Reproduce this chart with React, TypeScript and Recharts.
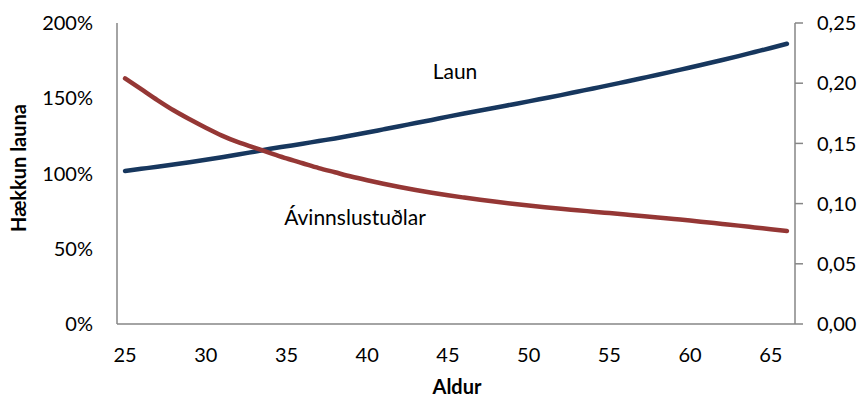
import { LineChart, Line, XAxis, YAxis } from 'recharts';

const ages = [
  25, 26, 27, 28, 29, 30, 31, 32, 33, 34, 35, 36, 37, 38, 39, 40, 41, 42, 43, 44, 45,
  46, 47, 48, 49, 50, 51, 52, 53, 54, 55, 56, 57, 58, 59, 60, 61, 62, 63, 64, 65, 66,
];

// Hækkun launa, % (left axis)
const laun = [
  101.7, 103.1, 104.5, 106.0, 107.5, 109.1, 110.8, 112.6, 114.5, 116.4, 118.1, 119.8,
  121.6, 123.3, 125.2, 127.2, 129.3, 131.4, 133.5, 135.6, 137.8, 139.9, 141.9, 143.9,
  145.9, 147.9, 150.0, 152.1, 154.3, 156.5, 158.7, 161.0, 163.3, 165.6, 168.0, 170.4,
  172.9, 175.4, 178.0, 180.7, 183.4, 186.2,
];

// Ávinnslustuðlar (right axis)
const avinnslustudlar = [
  0.204, 0.195, 0.186, 0.1775, 0.17, 0.163, 0.1565, 0.151, 0.1465, 0.142, 0.1375, 0.1335,
  0.1295, 0.126, 0.1225, 0.1194, 0.1165, 0.1138, 0.1113, 0.109, 0.1069, 0.105, 0.1032,
  0.1015, 0.0999, 0.0984, 0.097, 0.0957, 0.0945, 0.0933, 0.0921, 0.0909, 0.0897, 0.0885,
  0.0872, 0.0859, 0.0845, 0.0831, 0.0817, 0.0802, 0.0787, 0.0772,
];

const xTicks = [25, 30, 35, 40, 45, 50, 55, 60, 65];
const leftTicks = [0, 50, 100, 150, 200];
const rightTicks = [0, 0.05, 0.1, 0.15, 0.2, 0.25];

const data = ages.map((age, i) => ({ age, laun: laun[i], avinnslustudlar: avinnslustudlar[i] }));

const FONT = 'Lato, "Open Sans", sans-serif';
const AXIS = '#868686';
const tickStyle = { fontSize: 20, fill: '#000', fontFamily: FONT };

export default function App() {
  return (
    <div style={{ position: 'relative', width: 862, height: 401, fontFamily: FONT }}>
      <style>{'body{margin:0}'}</style>
      <LineChart width={862} height={401} data={data} margin={{ top: 23, right: 0, bottom: 0, left: 0 }}>
        <XAxis
          dataKey="age"
          type="number"
          domain={[24.5, 66.5]}
          ticks={xTicks}
          tickLine={false}
          tickSize={0}
          tickMargin={24}
          height={77}
          axisLine={{ stroke: AXIS, strokeWidth: 1.5 }}
          tick={tickStyle}
        />
        <YAxis
          yAxisId="left"
          domain={[0, 200]}
          ticks={leftTicks}
          width={117}
          tickLine={false}
          tickSize={0}
          tickMargin={24}
          axisLine={{ stroke: AXIS, strokeWidth: 1.5 }}
          tick={tickStyle}
          tickFormatter={(v: number) => `${v}%`}
        />
        <YAxis
          yAxisId="right"
          orientation="right"
          domain={[0, 0.25]}
          ticks={rightTicks}
          width={67}
          tickSize={8}
          tickMargin={14}
          tickLine={{ stroke: AXIS, strokeWidth: 1.5 }}
          axisLine={{ stroke: AXIS, strokeWidth: 1.5 }}
          tick={{ ...tickStyle, textAnchor: 'start' }}
          tickFormatter={(v: number) => v.toFixed(2).replace('.', ',')}
        />
        <Line
          yAxisId="left"
          type="monotone"
          dataKey="laun"
          stroke="#17375E"
          strokeWidth={4.5}
          strokeLinecap="round"
          dot={false}
          activeDot={false}
          isAnimationActive={false}
        />
        <Line
          yAxisId="right"
          type="monotone"
          dataKey="avinnslustudlar"
          stroke="#953735"
          strokeWidth={4.5}
          strokeLinecap="round"
          dot={false}
          activeDot={false}
          isAnimationActive={false}
        />
      </LineChart>

      {/* series labels and axis titles */}
      <div style={{ position: 'absolute', left: 455, top: 70, transform: 'translate(-50%,-50%)', fontSize: 21, whiteSpace: 'nowrap' }}>
        Laun
      </div>
      <div style={{ position: 'absolute', left: 355, top: 216, transform: 'translate(-50%,-50%)', fontSize: 21, whiteSpace: 'nowrap' }}>
        Ávinnslustuðlar
      </div>
      <div style={{ position: 'absolute', left: 457, top: 386, transform: 'translate(-50%,-50%)', fontSize: 20, fontWeight: 'bold', whiteSpace: 'nowrap' }}>
        Aldur
      </div>
      <div style={{ position: 'absolute', left: 18, top: 168, transform: 'translate(-50%,-50%) rotate(-90deg)', fontSize: 20, fontWeight: 'bold', whiteSpace: 'nowrap' }}>
        Hækkun launa
      </div>
    </div>
  );
}
